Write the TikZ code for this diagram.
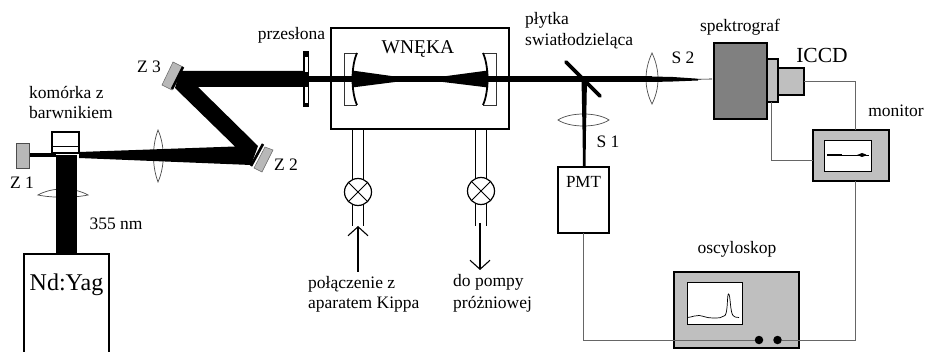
\documentclass[tikz,border=0pt]{standalone}
\usepackage{fontspec}
\setmainfont{Liberation Serif}
\usetikzlibrary{arrows.meta,calc}
\tikzset{
  lbl/.style={inner sep=0pt,font=\fontsize{17.5}{18}\selectfont},
  lblw/.style={lbl,anchor=west},
  box/.style={draw=black,line width=1.6pt,anchor=north west,inner sep=0pt,outer sep=0pt},
  thinbox/.style={draw=black,line width=0.8pt,anchor=north west,inner sep=0pt,outer sep=0pt},
  wire/.style={draw=black!60,line width=0.9pt},
  lens/.style={draw=black!70,line width=0.7pt,fill=white},
  beam/.style={fill=black,draw=none},
  pipe/.style={draw=black,line width=1pt},
  flow/.style={draw=black,line width=1.1pt,-{Straight Barb[length=9pt,width=20pt,line width=1.1pt]}},
  valve/.style={circle,draw=black,line width=1.2pt,minimum size=27pt,inner sep=0pt,outer sep=0pt,fill=white},
  mirrorg/.style={fill=black!28,draw=black!60,line width=0.5pt},
}
\begin{document}
\begin{tikzpicture}[x=1pt,y=-1pt]
\useasboundingbox (0,0) rectangle (925,352);
% lenses
\draw[lens] (38,195) .. controls (52,187) and (74,187) .. (88,195) .. controls (74,198) and (52,198) .. (38,195) -- cycle;
\draw[lens] (158,130) .. controls (152,146) and (152,166) .. (158,182) .. controls (165,166) and (165,146) .. (158,130) -- cycle;
\draw[lens] (558,120) .. controls (570,112) and (597,112) .. (609,120) .. controls (597,128) and (570,128) .. (558,120) -- cycle;
\draw[lens] (652,53) .. controls (644,70) and (644,88) .. (652,104) .. controls (660,88) and (660,70) .. (652,53) -- cycle;
% cavity box
\node[box,minimum width=178pt,minimum height=101pt] (wneka) at (331,28) {};
\node[inner sep=0pt,font=\fontsize{19.5}{20}\selectfont] (wnekat) at (418,49) {WNĘKA};
% cavity mirrors
\draw[line width=0.6pt,draw=black!80] (357,53) -- (344,53) -- (344,105) -- (357,105);
\draw[line width=0.6pt,draw=black!80] (483,53) -- (496,53) -- (496,105) -- (483,105);
\draw[line width=1.8pt] (357,53) .. controls (351,66) and (351,92) .. (357,105);
\draw[line width=1.8pt] (483,53) .. controls (489,66) and (489,92) .. (483,105);
% beams
\fill[beam] (29,153.5) rectangle (56,157);
\fill[beam] (56,155) rectangle (77,254);
\fill[beam] (79,152) -- (235,146.5) -- (175,88) -- (180,71) -- (305,71) -- (305,87) -- (198,87) -- (258,146) -- (251,165) -- (79,158) -- cycle;
\fill[beam] (305,76.5) rectangle (652,82);
\fill[beam] (352,70.5) -- (395,76.5) -- (443,76.5) -- (488,70.5) -- (488,87.5) -- (443,82) -- (395,82) -- (352,87.5) -- cycle;
\fill[beam] (652,76.5) -- (673,77) -- (695,78.5) -- (698,79) -- (698,80.5) -- (673,81.5) -- (652,82) -- cycle;
\draw[line width=0.6pt] (696,79.3) -- (712,79);
\fill[beam] (581.5,79) -- (587,79) -- (586,130) -- (585.5,167) -- (583,167) -- (582.5,130) -- cycle;
% beam-splitter plate
\draw[line width=3.6pt,line cap=round] (566,62) -- (600,96);
% aperture
\fill[beam] (303,51) rectangle (309,107);
\fill[white] (305.3,57) rectangle (307.6,72);
\fill[white] (305.3,87) rectangle (307.6,103);
% dye cell
\node[thinbox,line width=1.1pt,minimum width=27pt,minimum height=21pt] (cell) at (52,132) {};
\draw[line width=0.9pt] (52,146) -- (79,146);
% mirrors Z1, Z2, Z3
\draw[mirrorg,draw=black!70] (16,143) rectangle (29,168);
\fill[mirrorg] (265,147) -- (273,150) -- (262,172) -- (254,168) -- cycle;
\draw[line width=2.6pt] (263,144) -- (251,166);
\fill[mirrorg] (173,62) -- (183,67) -- (172,90) -- (162,85) -- cycle;
\draw[line width=2.6pt] (183,67) -- (172,89);
% Nd:Yag
\draw[line width=1.6pt] (24,352) -- (24,254) -- (109,254) -- (109,352);
\node[inner sep=0pt,font=\fontsize{24}{25}\selectfont] (yag) at (66.5,285) {Nd:Yag};
% pipes and valves
\node[valve] (v1) at (358,192) {};
\node[valve] (v2) at (481,191) {};
\draw[pipe] (v1.center) +(-5.5,-12.5) -- (352.5,129) (v1.center) +(5.5,-12.5) -- (363.5,129);
\draw[pipe] (v2.center) +(-6,-12.5) -- (475,129) (v2.center) +(5,-12.5) -- (486,129);
\draw[pipe] (v1.center) +(-5.5,12.5) -- (352.5,226) (v1.center) +(5.5,12.5) -- (363.5,226);
\draw[pipe] (v2.center) +(-6,12.5) -- (475,226) (v2.center) +(5,12.5) -- (486,226);
\draw[line width=1pt] (v1.45) -- (v1.225) (v1.135) -- (v1.315);
\draw[line width=1pt] (v2.45) -- (v2.225) (v2.135) -- (v2.315);
\coordinate (kipp) at (358,272);
\coordinate (kippin) at (358,226);
\coordinate (pump) at (480,223);
\coordinate (pumpout) at (480,270);
\draw[flow] (kipp) -- (kippin);
\draw[flow] (pump) -- (pumpout);
% PMT
\node[box,minimum width=51pt,minimum height=66pt] (pmt) at (558,167) {};
\node[inner sep=0pt,font=\fontsize{17}{18}\selectfont] (pmtt) at (583.5,182) {PMT};
% spectrograph & camera
\node[box,line width=2.2pt,fill=black!50,minimum width=53pt,minimum height=76pt] (spek) at (714,43) {};
\node[box,fill=black!25,minimum width=11pt,minimum height=43pt] (adapt) at (767,59) {};
\node[box,line width=2pt,fill=black!25,minimum width=26pt,minimum height=27pt] (iccd) at (778,68) {};
% monitor
\node[box,line width=2pt,fill=black!25,minimum width=76pt,minimum height=51pt] (mon) at (813,130) {};
\node[thinbox,fill=white,minimum width=47pt,minimum height=31pt] (monscr) at (824,140) {};
\draw[line width=0.5pt] (827,155) -- (869,155);
\draw[line width=1.6pt] (827,155) -- (842,155);
\fill[beam] (857,155) -- (862,153) -- (866,154.5) -- (866,155.5) -- (862,157) -- cycle;
% oscilloscope
\node[box,fill=black!25,minimum width=125pt,minimum height=76pt] (osc) at (674,272) {};
\node[thinbox,fill=white,minimum width=55pt,minimum height=42pt] (oscscr) at (687,282) {};
\draw[line width=0.7pt] (687.5,317.5) .. controls (693,317) and (695,315) .. (699,315.5) .. controls (704,316) and (706,318) .. (713,318) .. controls (719,318) and (722,318) .. (725,315.5) .. controls (728,312) and (727,294) .. (728.5,294) .. controls (730.5,294) and (730,312) .. (733,315.5) .. controls (734,317) and (736,317.5) .. (739,317.5);
\node[circle,fill=black,minimum size=8.5pt,inner sep=0pt,outer sep=0pt] (k1) at (759,340) {};
\node[circle,fill=black,minimum size=8.5pt,inner sep=0pt,outer sep=0pt] (k2) at (777.5,340) {};
% wires
\draw[wire] (iccd.east) -| ([xshift=4pt]mon.north);
\draw[wire] ([xshift=-7pt]adapt.south east) |- ([yshift=-4.5pt]mon.west);
\draw[wire] ([xshift=4.5pt]mon.south) |- (k2.east);
\draw[wire] (pmt.south) |- (k1.west);
% labels
\node[lbl] (z1) at (22,183) {Z 1};
\node[lbl] (z2) at (286,165) {Z 2};
\node[lbl] (z3) at (149,67) {Z 3};
\node[lblw] (kom) at (29,93) {komórka z};
\node[lblw] (bar) at (29,113) {barwnikiem};
\node[lbl] (prz) at (291.5,35) {przesłona};
\node[lblw] (ply) at (525,20) {płytka};
\node[lblw] (swi) at (525,41) {swiatłodzieląca};
\node[lbl] (s1) at (608,142) {S 1};
\node[lbl] (s2) at (683,58) {S 2};
\node[lbl] (spt) at (740,27) {spektrograf};
\node[inner sep=0pt,font=\fontsize{21.5}{22}\selectfont] (ict) at (822,55) {ICCD};
\node[lbl] (mot) at (896,111) {monitor};
\node[lbl] (ost) at (737,249) {oscyloskop};
\node[lbl] (nm) at (116,224) {355 nm};
\node[lblw] (pol) at (308,284) {połączenie z};
\node[lblw] (apa) at (308,305) {aparatem Kippa};
\node[lblw] (dop) at (453,282) {do pompy};
\node[lblw] (pro) at (453,304) {próżniowej};
\end{tikzpicture}
\end{document}
